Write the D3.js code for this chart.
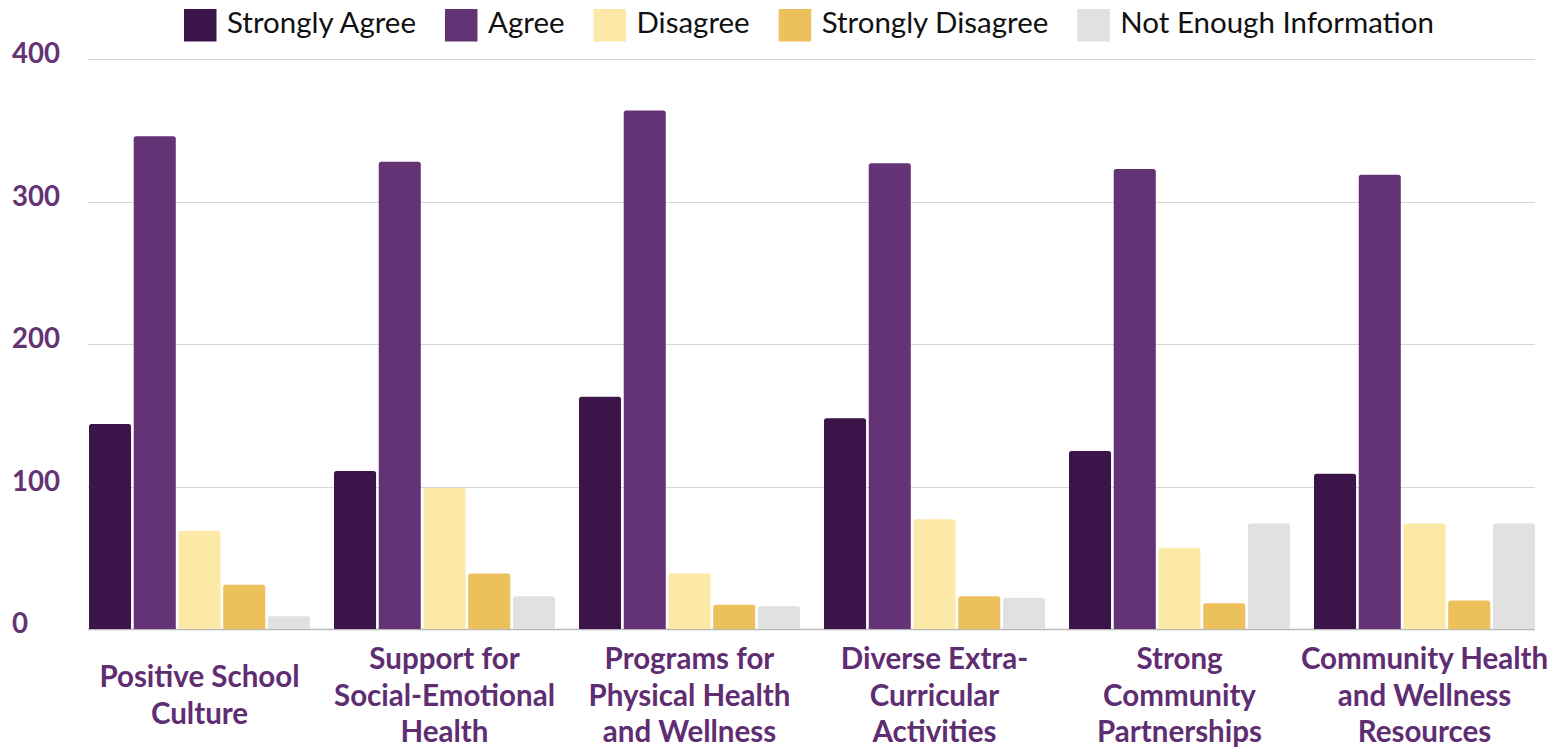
<!DOCTYPE html>
<html>
<head>
<meta charset="utf-8">
<script src="https://cdn.jsdelivr.net/npm/d3@7"></script>
<style>
html,body{margin:0;padding:0;background:#fff;}
svg{display:block;}
</style>
</head>
<body>
<svg id="chart" width="1550" height="747"></svg>
<script>
const categories = [
  ["Positive School", "Culture"],
  ["Support for", "Social-Emotional", "Health"],
  ["Programs for", "Physical Health", "and Wellness"],
  ["Diverse Extra-", "Curricular", "Activities"],
  ["Strong", "Community", "Partnerships"],
  ["Community Health", "and Wellness", "Resources"]
];
const seriesNames = ["Strongly Agree", "Agree", "Disagree", "Strongly Disagree", "Not Enough Information"];
const stronglyAgree = [144, 111, 163, 148, 125, 109];
const agree = [346, 328, 364, 327, 323, 319];
const disagree = [69, 99, 39, 77, 57, 74];
const stronglyDisagree = [31, 39, 17, 23, 18, 20];
const notEnoughInfo = [9, 23, 16, 22, 74, 74];
const yTicks = [0, 100, 200, 300, 400];
const colors = ["#3b1449", "#633375", "#fde9a7", "#ecc05a", "#e1e1e1"];

const seriesValues = [stronglyAgree, agree, disagree, stronglyDisagree, notEnoughInfo];
const catKeys = categories.map((c, i) => "c" + i);

const svg = d3.select("#chart");
const mLeft = 89, mRight = 1535, mTop = 59.3, mBottom = 629;
const fontFam = "Lato, sans-serif";

// fit a font size so that a sample string reaches a target width
function fitSize(family, weight, sample, target) {
  const t = svg.append("text").attr("font-family", family).attr("font-weight", weight)
    .attr("font-size", 30).text(sample);
  const w = t.node().getComputedTextLength();
  t.remove();
  return 30 * target / w;
}
const legendSize = fitSize(fontFam, 400, seriesNames.join(""), 918);
const labelSize = fitSize(fontFam, 700, "Social-Emotional", 221);
const tickSize = fitSize(fontFam, 700, "400", 48);

const x0 = d3.scaleBand().domain(catKeys).range([mLeft, mRight]).paddingInner(0.098).paddingOuter(0);
const x1 = d3.scaleBand().domain(seriesNames).range([0, x0.bandwidth()]).paddingInner(0.06).paddingOuter(0);
const y = d3.scaleLinear().domain([0, 400]).range([mBottom, mTop]);

// gridlines
const grid = svg.append("g");
grid.selectAll("line").data(yTicks).join("line")
  .attr("x1", mLeft - 1).attr("x2", mRight)
  .attr("y1", d => Math.round(y(d)) + 0.5).attr("y2", d => Math.round(y(d)) + 0.5)
  .attr("stroke", d => d === 0 ? "#b9b9b9" : "#d6d6d6").attr("stroke-width", d => d === 0 ? 1.5 : 1);

// y tick labels
svg.append("g").selectAll("text").data(yTicks).join("text")
  .attr("x", 12).attr("y", d => y(d) - 3)
  .attr("dominant-baseline", "middle")
  .attr("font-family", fontFam).attr("font-weight", 700).attr("font-size", tickSize)
  .attr("fill", "#633375").text(d => d);

// bars with rounded top corners
function barPath(x, yTop, w, h, r) {
  r = Math.min(r, h / 2, w / 2);
  return `M${x},${yTop + h}V${yTop + r}Q${x},${yTop} ${x + r},${yTop}H${x + w - r}Q${x + w},${yTop} ${x + w},${yTop + r}V${yTop + h}Z`;
}
const groups = svg.append("g").selectAll("g").data(catKeys).join("g")
  .attr("transform", d => `translate(${x0(d)},0)`);
groups.selectAll("path").data((d, i) => seriesNames.map((s, j) => ({s, j, v: seriesValues[j][i]})))
  .join("path")
  .attr("d", d => barPath(x1(d.s), y(d.v), x1.bandwidth(), y(0) - y(d.v), 2.5))
  .attr("fill", d => colors[d.j]);

// category labels
const lineH = 36.5, centerY = 698;
svg.append("g").selectAll("text").data(categories).join("text")
  .attr("text-anchor", "middle")
  .attr("font-family", fontFam).attr("font-weight", 700).attr("font-size", labelSize)
  .attr("fill", "#5f2d72")
  .each(function(lines, i) {
    const cx = x0(catKeys[i]) + x0.bandwidth() / 2;
    const startY = centerY - (lines.length - 1) * lineH / 2;
    d3.select(this).selectAll("tspan").data(lines).join("tspan")
      .attr("x", cx).attr("y", (l, k) => startY + k * lineH)
      .attr("dominant-baseline", "middle")
      .text(l => l);
  });

// legend
const legend = svg.append("g");
let lx = 184;
seriesNames.forEach((name, j) => {
  legend.append("rect").attr("x", lx).attr("y", 9).attr("width", 32.5).attr("height", 32.5).attr("fill", colors[j]);
  const t = legend.append("text").attr("x", lx + 43).attr("y", 25.5)
    .attr("dominant-baseline", "middle")
    .attr("font-family", fontFam).attr("font-size", legendSize).attr("fill", "#111")
    .text(name);
  const w = t.node().getComputedTextLength();
  lx = lx + 43 + w + 29;
});
</script>
</body>
</html>
